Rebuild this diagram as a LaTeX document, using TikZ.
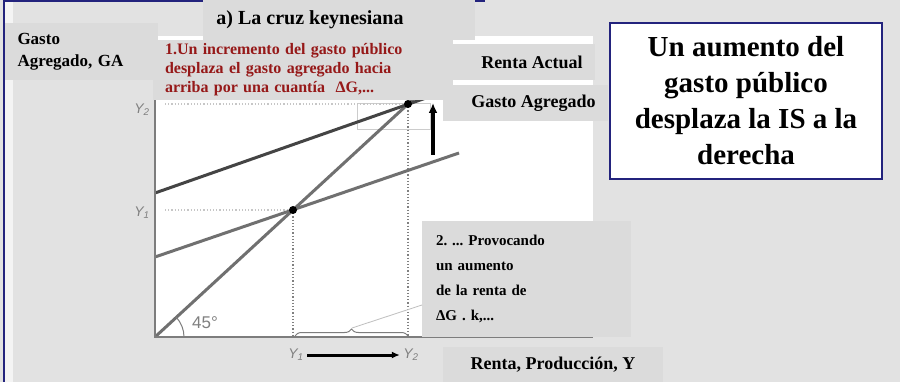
\documentclass[tikz,border=0pt]{standalone}
\usepackage{fontspec}
\setmainfont{Liberation Serif}
\setsansfont{Liberation Sans}
\usetikzlibrary{arrows.meta,decorations.pathreplacing}
\frenchspacing
\definecolor{fondo}{RGB}{226,226,226}
\definecolor{cajagris}{RGB}{219,219,219}
\definecolor{marino}{RGB}{35,35,125}
\definecolor{rojo}{RGB}{150,25,25}
\definecolor{recta}{RGB}{112,112,112}
\definecolor{rectaosc}{RGB}{68,68,68}
\definecolor{eje}{RGB}{125,125,125}
\tikzset{
  caja/.style={fill=cajagris, inner sep=0pt, font=\bfseries\fontsize{18}{22}\selectfont},
  gasto/.style={line width=3pt, color=recta},
  puntos/.style={dotted, line width=1.2pt, color=#1},
  etiq/.style={font=\sffamily\itshape\fontsize{14}{14}\selectfont, text=gray},
  equilibrio/.style={circle, fill=black, inner sep=0pt, minimum size=8pt}
}
\begin{document}
\begin{tikzpicture}[x=1pt,y=-1pt]
\useasboundingbox (0,0) rectangle (900,382);
\fill[fondo] (0,0) rectangle (900,382);
\fill[white!60!fondo] (5,0) rectangle (13,382);
\draw[marino, line width=1.5pt] (4,382) -- (4,1) -- (485,1);

% plot area
\fill[white] (155,36) rectangle (593,337);
\coordinate (O) at (155,337);
\coordinate (E1) at (293,210);
\coordinate (E2) at (408,104);

\draw[gray!40, line width=1pt] (357,104) rectangle (430,130);
\draw[puntos=gray!45] (165,104) -- (E2);
\draw[puntos=gray!45] (165,210) -- (E1);
\draw[puntos=gray] (E1) -- (E1 |- O);
\draw[puntos=gray] (E2) -- (E2 |- O);

\draw[gasto] (155,257) -- (459,153);
\draw[gasto] (O) -- (470,47);
\draw[gasto, color=rectaosc] (155,193) -- (443,92);
\draw[eje, line width=1.6pt] (155,36) -- (O) -- (593,337);

\node[equilibrio] (p1) at (E1) {};
\node[equilibrio] (p2) at (E2) {};
\draw[-{Latex[length=10pt,width=9pt]}, line width=4pt] (433,155) -- (433,103);

\draw[eje, line width=1pt] ([xshift=29pt]O) arc[start angle=0, end angle=43, radius=29pt];
\node[etiq, font=\sffamily\fontsize{17}{17}\selectfont] (ang) at (205,323) {45°};
\node[etiq] (y2v) at (142,110) {Y\textsubscript{2}};
\node[etiq] (y1v) at (142,213) {Y\textsubscript{1}};
\node[etiq] (y1h) at (296,355) {Y\textsubscript{1}};
\node[etiq] (y2h) at (411,355) {Y\textsubscript{2}};
\draw[-{Latex[length=8pt,width=7pt]}, line width=3pt] (y1h) -- (y2h);

\draw[decorate, decoration={brace, amplitude=7pt}, eje, line width=1pt] (295,336) -- (408,336);
\coordinate (llave) at (352,328);

% label boxes
\node[caja, minimum width=153pt, minimum height=57pt, text width=128pt, align=left, font=\bfseries\fontsize{17}{22}\selectfont] (ga) at (81.5,51.5) {Gasto\\Agregado, GA};
\fill[cajagris] (203,0) rectangle (475,40);
\node[font=\bfseries\fontsize{20}{22}\selectfont] (titulo) at (310,20) {a) La cruz keynesiana};
\node[caja, minimum width=300pt, minimum height=60pt, text width=276pt, align=left, text=rojo, font=\bfseries\fontsize{16}{19}\selectfont] (impulso) at (303,70) {1.Un incremento del gasto público\\desplaza el gasto agregado hacia\\arriba por una cuantía \ ΔG,...};
\node[caja, minimum width=142pt, minimum height=36pt] (actual) at (524,62) {\hspace*{16pt}Renta Actual};
\node[caja, minimum width=165pt, minimum height=36pt] (agregado) at (525.5,103) {\hspace*{16pt}Gasto Agregado};
\node[caja, minimum width=209pt, minimum height=116pt, text width=181pt, align=left, font=\bfseries\fontsize{15}{25}\selectfont] (provoca) at (526.5,279) {2. ... Provocando\\un aumento\\de la renta de\\ΔG . k,...};
\node[caja, minimum width=220pt, minimum height=35pt] (renta) at (553,364.5) {Renta, Producción, Y};
\coordinate (nota) at (422,305);
\draw[gray!50, line width=0.8pt] (llave) -- (nota);

\node[draw=marino, line width=1.5pt, fill=white, minimum width=272pt, minimum height=156pt, align=center, font=\bfseries\fontsize{29}{36}\selectfont] (is) at (746,101) {Un aumento del\\gasto público\\desplaza la IS a la\\derecha};
\end{tikzpicture}
\end{document}
